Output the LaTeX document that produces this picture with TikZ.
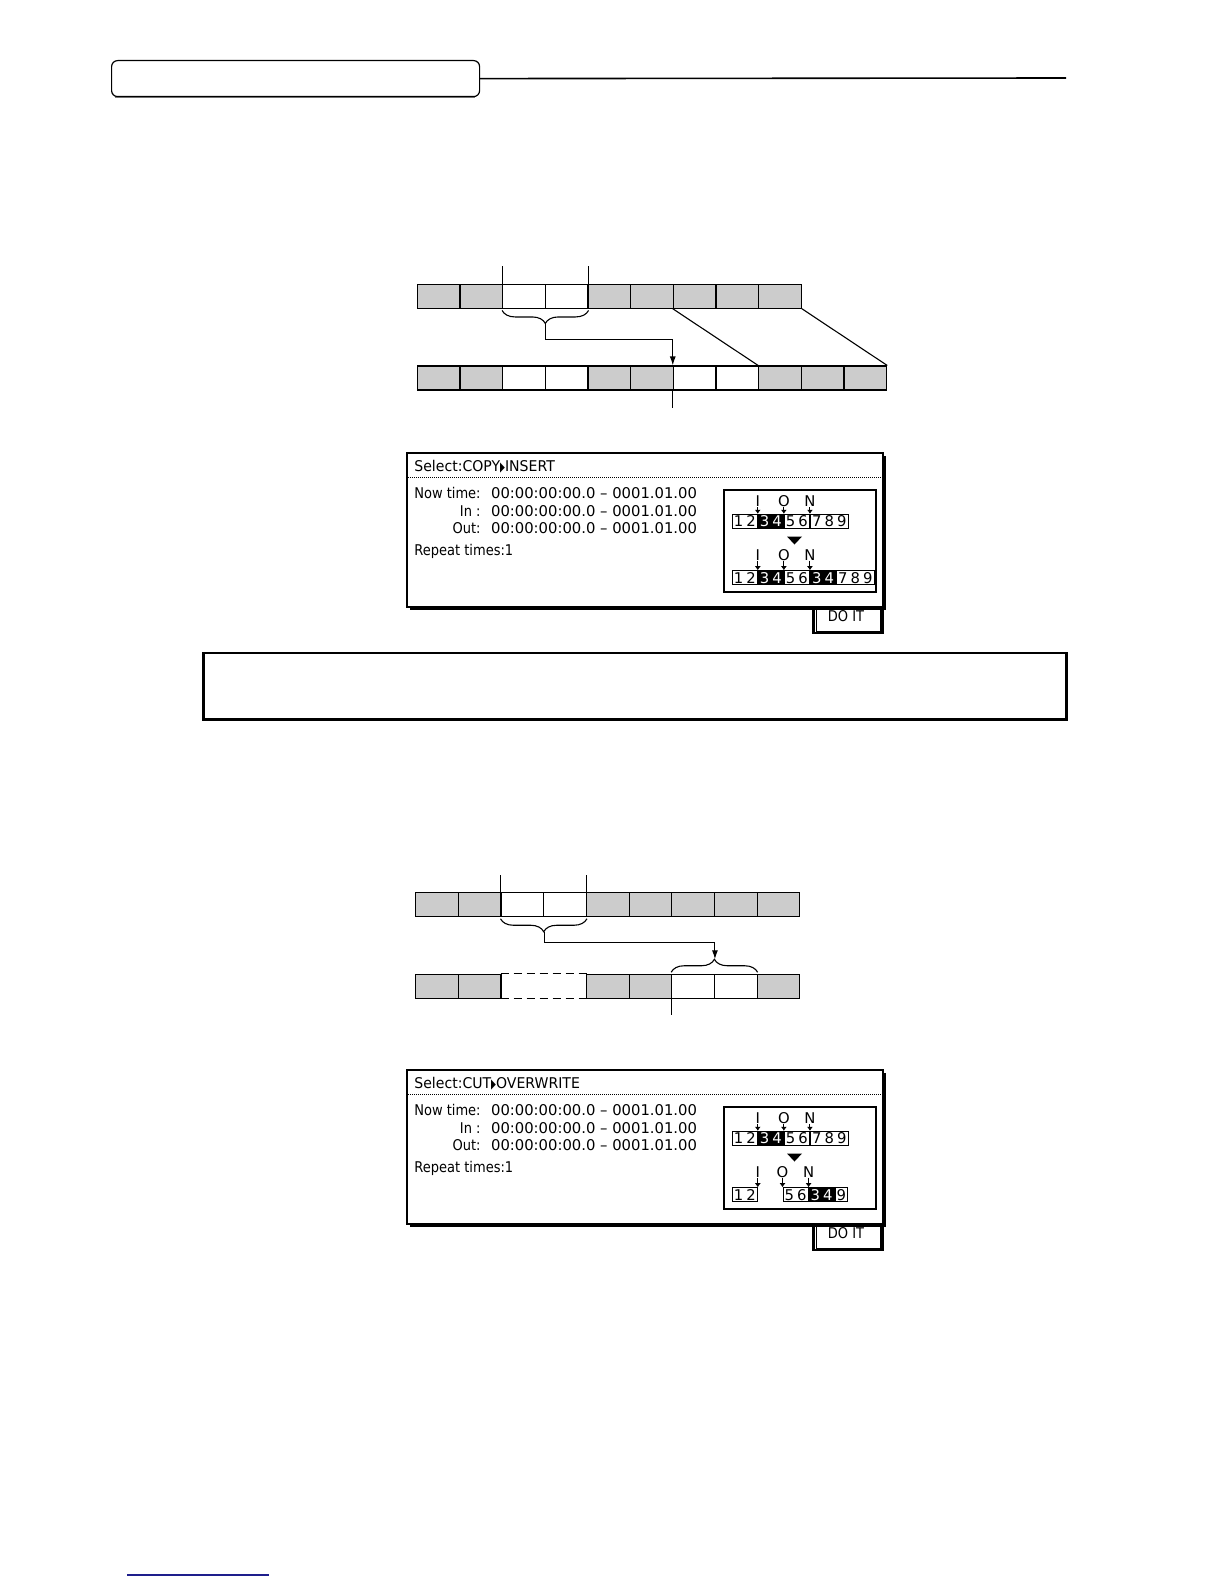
\documentclass[tikz,border=0pt]{standalone}
\usepackage{fontspec}
\newfontfamily\lcdfont{DejaVu Sans}
\usetikzlibrary{arrows.meta,decorations.pathreplacing,calc}
\definecolor{footnavy}{RGB}{30,30,140}
\newcommand\dg[1]{\makebox[6.27pt]{#1}}
\newcommand\nar[1]{\scalebox{0.88}[1]{#1}}
\newcommand\tri{\scalebox{0.45}[0.9]{▶}}
\begin{document}
\begin{tikzpicture}[x=0.5pt,y=-0.5pt,
  cellg/.style={draw, fill=black!20, minimum width=21.33pt, minimum height=12pt, inner sep=0pt, line width=0.55pt},
  cellx/.style={minimum width=21.33pt, minimum height=12pt, inner sep=0pt},
  conn/.style={line width=0.55pt},
  arr/.style={conn, -{Latex[length=4.5pt,width=3pt]}},
  brc/.style={conn, decorate, decoration={brace, amplitude=6.5pt}},
  lcd/.style={font=\lcdfont\fontsize{7.4}{8.9}\selectfont, inner sep=0pt},
  mwhite/.style={lcd, draw, fill=white, minimum height=7pt, line width=0.5pt, anchor=west},
  mblack/.style={mwhite, fill=black, text=white},
  marr/.style={line width=0.5pt, -{Latex[length=2pt,width=3pt]}},
  frame/.style={line width=0.6pt}]
\useasboundingbox (0,0) rectangle (1224,1584);
\fill[white] (0,0) rectangle (1224,1584);

% ---------- header ----------
\draw[gray, line width=0.6pt] (115,97.5) -- (475,97.5);
\node[draw, line width=0.6pt, rounded corners=3pt, minimum width=184pt, minimum height=18pt, inner sep=0pt, anchor=north west, fill=white] (hdr) at (111,60) {};
\coordinate (hdrend) at (1066,78);
\draw[line width=0.8pt] (hdr.east) -- (hdrend);

% ---------- timeline 1 ----------
\foreach \f [count=\i] in {20,20,0,0,20,20,20,20,20}
  \node[cellg, fill=black!\f] (ta\i) at ({417.3+(\i-0.5)*42.67},296.2) {};
\foreach \f [count=\i] in {20,20,0,0,20,20,0,0,20,20,20}
  \node[cellg, fill=black!\f] (tb\i) at ({417.3+(\i-0.5)*42.67},378) {};
\path (ta3.north west) ++(0,-17.3) coordinate (pa1);
\path (ta4.north east) ++(0,-17.3) coordinate (pa2);
\draw[conn] (ta3.north west) -- (pa1);
\draw[conn] (ta4.north east) -- (pa2);
\draw[brc] ($(ta4.south east)+(0,1.7)$) -- ($(ta3.south west)+(0,1.7)$);
\coordinate (bra1tip) at ($(ta3.south east)+(0,14.7)$);
\draw[arr] (bra1tip) -- ++(0,16) -| (tb7.north west);
\draw[conn] (ta7.south west) -- (tb9.north west);
\draw[conn] (ta9.south east) -- (tb11.north east);
\path (tb7.south west) ++(0,17) coordinate (pb1);
\draw[conn] (tb7.south west) -- (pb1);

% ---------- LCD panel macro ----------
\newcommand\lcdpanel[3]{%
 \begin{scope}[shift={(0,#2)}]
  \draw[frame] (816.5,607) rectangle (881,631.5);
  \draw[line width=1.2pt] (813.5,607) -- (813.5,633) -- (882.3,633) -- (882.3,609);
  \draw[line width=1.3pt] (409.5,608.5) -- (884.5,608.5) -- (884.5,455.5);
  \draw[frame] (407,453) rectangle (883,607);
  \draw[line width=0.5pt, dash pattern=on 0.5pt off 0.5pt] (408,477.5) -- (882,477.5);
  \node[lcd, anchor=base west] (#1title) at (414,471.5) {\scalebox{0.95}[1]{#3}};
  \node[lcd, anchor=base east] (#1l1) at (481,498.3) {\nar{Now time:}};
  \node[lcd, anchor=base east] (#1l2) at (481,516) {\nar{In :}};
  \node[lcd, anchor=base east] (#1l3) at (481,533.3) {\nar{Out:}};
  \node[lcd, anchor=base west] (#1v1) at (490.7,498.3) {00:00:00:00.0 – 0001.01.00};
  \node[lcd, anchor=base west] (#1v2) at (490.7,516) {00:00:00:00.0 – 0001.01.00};
  \node[lcd, anchor=base west] (#1v3) at (490.7,533.3) {00:00:00:00.0 – 0001.01.00};
  \node[lcd, anchor=base west] (#1rep) at (414,555) {\nar{Repeat times:1}};
  \node[lcd, anchor=base] (#1doit) at (846,621.5) {\nar{DO IT}};
  \draw[line width=1pt] (724,490) rectangle (875.7,591.7);
  \fill (787,536.5) -- (802,536.5) -- (794.5,544.5) -- cycle;
 \end{scope}}

\lcdpanel{pa}{0}{Select:COPY\tri INSERT}
\lcdpanel{pb}{617}{Select:CUT\tri OVERWRITE}

% ---------- mini diagram 1 ----------
\node[mwhite] (ar1a) at (731.7,521.3) {\dg1\dg2};
\node[mblack] (ar1b) at (ar1a.east) {\dg3\dg4};
\node[mwhite] (ar1c) at (ar1b.east) {\dg5\dg6};
\node[mwhite] (ar1d) at (ar1c.east) {\dg7\dg8\dg9};
\node[lcd, anchor=base] (aI) at ($(ar1b.north west)+(0,-7)$) {I};
\node[lcd, anchor=base] (aO) at ($(ar1c.north west)+(0,-7)$) {O};
\node[lcd, anchor=base] (aN) at ($(ar1d.north west)+(0,-7)$) {N};
\draw[marr] (aI.south) -- (ar1b.north west);
\draw[marr] (aO.south) -- (ar1c.north west);
\draw[marr] (aN.south) -- (ar1d.north west);
\node[mwhite] (ar2a) at (731.7,577.7) {\dg1\dg2};
\node[mblack] (ar2b) at (ar2a.east) {\dg3\dg4};
\node[mwhite] (ar2c) at (ar2b.east) {\dg5\dg6};
\node[mblack] (ar2d) at (ar2c.east) {\dg3\dg4};
\node[mwhite] (ar2e) at (ar2d.east) {\dg7\dg8\dg9};
\node[lcd, anchor=base] (aI2) at ($(ar2b.north west)+(0,-10)$) {I};
\node[lcd, anchor=base] (aO2) at ($(ar2c.north west)+(0,-10)$) {O};
\node[lcd, anchor=base] (aN2) at ($(ar2d.north west)+(0,-10)$) {N};
\draw[marr] (aI2.south) -- (ar2b.north west);
\draw[marr] (aO2.south) -- (ar2c.north west);
\draw[marr] (aN2.south) -- (ar2d.north west);

% ---------- notice box ----------
\node[draw, line width=1.15pt, minimum width=431.5pt, minimum height=33.3pt, inner sep=0pt, anchor=north west] (note) at (202.3,651.7) {};

% ---------- timeline 2 ----------
\foreach \f [count=\i] in {20,20,0,0,20,20,20,20,20}
  \node[cellg, fill=black!\f] (tc\i) at ({415.7+(\i-0.5)*42.67},904.5) {};
\foreach \i/\f in {1/20,2/20,5/20,6/20,7/0,8/0,9/20}
  \node[cellg, fill=black!\f] (td\i) at ({415.7+(\i-0.5)*42.67},986.3) {};
\foreach \i in {3,4}
  \node[cellx] (td\i) at ({415.7+(\i-0.5)*42.67},986.3) {};
\draw[conn, dash pattern=on 4pt off 2.5pt] (td3.north west) -- (td4.north east);
\draw[conn, dash pattern=on 4pt off 2.5pt] (td3.south west) -- (td4.south east);
\path (tc3.north west) ++(0,-17.3) coordinate (pc1);
\path (tc4.north east) ++(0,-17.3) coordinate (pc2);
\draw[conn] (tc3.north west) -- (pc1);
\draw[conn] (tc4.north east) -- (pc2);
\draw[brc] ($(tc4.south east)+(0,1.7)$) -- ($(tc3.south west)+(0,1.7)$);
\coordinate (bra2tip) at ($(tc3.south east)+(0,14.7)$);
\draw[brc] ($(td7.north west)+(0,-1.5)$) -- ($(td8.north east)+(0,-1.5)$);
\coordinate (bra3tip) at ($(td7.north east)+(0,-14.5)$);
\draw[arr] (bra2tip) -- ++(0,11) -| (bra3tip);
\path (td7.south west) ++(0,16) coordinate (pd1);
\draw[conn] (td7.south west) -- (pd1);

% ---------- mini diagram 2 ----------
\begin{scope}[shift={(0,617)}]
\node[mwhite] (br1a) at (731.7,521.3) {\dg1\dg2};
\node[mblack] (br1b) at (br1a.east) {\dg3\dg4};
\node[mwhite] (br1c) at (br1b.east) {\dg5\dg6};
\node[mwhite] (br1d) at (br1c.east) {\dg7\dg8\dg9};
\node[lcd, anchor=base] (bI) at ($(br1b.north west)+(0,-7)$) {I};
\node[lcd, anchor=base] (bO) at ($(br1c.north west)+(0,-7)$) {O};
\node[lcd, anchor=base] (bN) at ($(br1d.north west)+(0,-7)$) {N};
\draw[marr] (bI.south) -- (br1b.north west);
\draw[marr] (bO.south) -- (br1c.north west);
\draw[marr] (bN.south) -- (br1d.north west);
\node[mwhite] (br2a) at (731.7,577.7) {\dg1\dg2};
\node[mwhite] (br2b) at (782.5,577.7) {\dg5\dg6};
\node[mblack] (br2c) at (br2b.east) {\dg3\dg4};
\node[mwhite] (br2d) at (br2c.east) {\dg9};
\node[lcd, anchor=base] (bI2) at ($(br2a.north east)+(0,-10)$) {I};
\node[lcd, anchor=base] (bO2) at ($(br2b.north west)+(0,-10)$) {O};
\node[lcd, anchor=base] (bN2) at ($(br2c.north west)+(0,-10)$) {N};
\draw[marr] (bI2.south) -- (br2a.north east);
\draw[marr] (bO2.south) -- (br2b.north west);
\draw[marr] (bN2.south) -- (br2c.north west);
\end{scope}

% ---------- footer ----------
\coordinate (footA) at (127,1575);
\coordinate (footB) at (269,1575);
\draw[footnavy, line width=0.7pt] (footA) -- (footB);
\end{tikzpicture}
\end{document}
